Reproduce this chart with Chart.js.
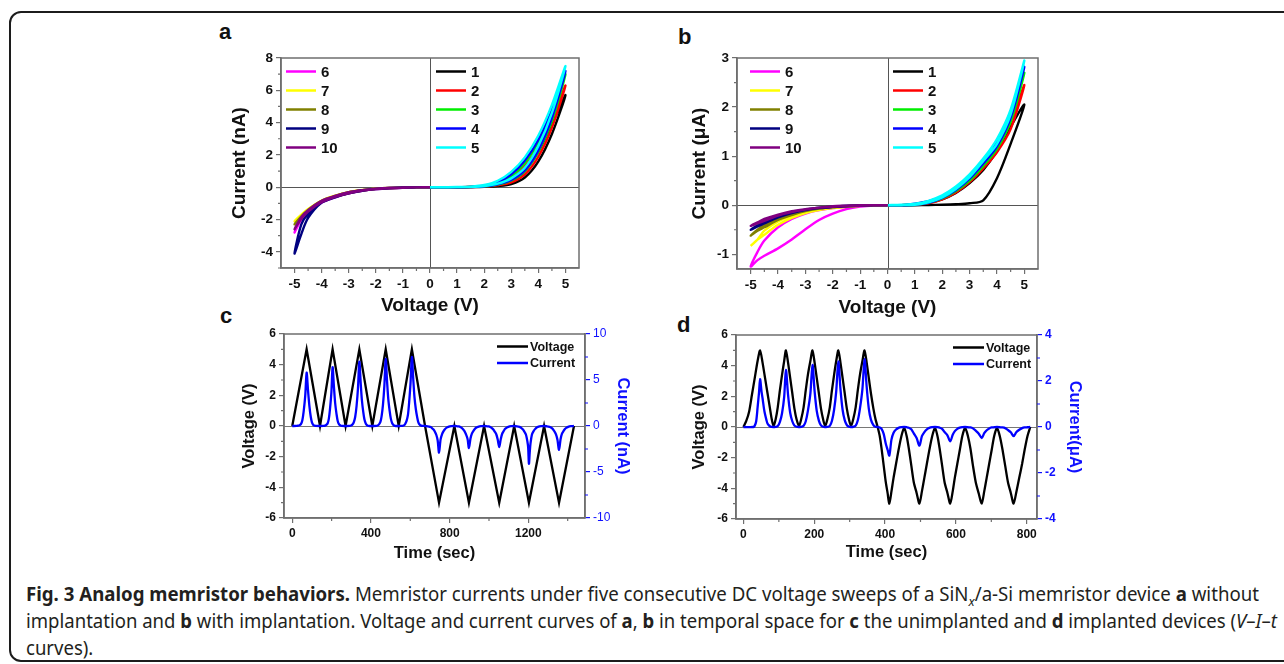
<!DOCTYPE html>
<html>
<head>
<meta charset="utf-8">
<title>Fig. 3 Analog memristor behaviors</title>
<script src="https://cdn.jsdelivr.net/npm/chart.js@4.4.1/dist/chart.umd.min.js"></script>
<style>
  html, body { margin: 0; padding: 0; background: #fff; }
  body { width: 1284px; height: 664px; position: relative; overflow: hidden; font-family: 'Liberation Sans', Arial, sans-serif; }
  .frame { position: absolute; left: 9px; top: 11px; width: 1300px; height: 647px; border: 2px solid #1c1c1c; border-radius: 12px; }
  canvas { position: absolute; }
  .tag { position: absolute; font: bold 22px 'Liberation Sans', Arial, sans-serif; line-height: 1; color: #111; }
  .cap { position: absolute; left: 26px; white-space: nowrap; transform-origin: 0 50%; font: 19px 'Noto Sans', sans-serif; line-height: 22px; color: #231f20; }
  .cap b { font-weight: 700; }
</style>
</head>
<body>
<div class="frame"></div>

<div class="tag" style="left:219px;top:21px">a</div>
<div class="tag" style="left:678px;top:26px">b</div>
<div class="tag" style="left:220px;top:305px">c</div>
<div class="tag" style="left:677px;top:314px">d</div>

<canvas id="chart-a" width="400" height="290" style="left:200px;top:40px"></canvas>
<canvas id="chart-b" width="400" height="290" style="left:660px;top:40px"></canvas>
<canvas id="chart-c" width="450" height="250" style="left:200px;top:320px"></canvas>
<canvas id="chart-d" width="450" height="250" style="left:650px;top:320px"></canvas>

<div class="cap" id="cap1" data-w="1233" style="top:583px"><b>Fig. 3 Analog memristor behaviors.</b> Memristor currents under five consecutive DC voltage sweeps of a SiN<sub style="font-size:13px"><i>x</i></sub>/a-Si memristor device <b>a</b> without</div>
<div class="cap" id="cap2" data-w="1251" style="top:610px">implantation and <b>b</b> with implantation. Voltage and current curves of <b>a</b>, <b>b</b> in temporal space for <b>c</b> the unimplanted and <b>d</b> implanted devices (<i>V</i>–<i>I</i>–<i>t</i></div>
<div class="cap" id="cap3" style="top:637px">curves).</div>

<script>
// ── Chart.js global defaults ──────────────────────────────
Chart.defaults.font.family = "'Liberation Sans', Arial, sans-serif";
Chart.defaults.color = '#111';
Chart.defaults.animation = false;

// ── I–V sweeps (panels a, b) ─────────────────────────────
const sweepLabels = ['1', '2', '3', '4', '5', '6', '7', '8', '9', '10'];
const sweepColors = ['#000000', '#ff0000', '#00ee00', '#0000ff', '#00ffff',
                     '#ff00ff', '#ffff00', '#808000', '#000080', '#800080'];

// voltage steps of one sweep (out and back)
const posGrid = [0, 0.5, 1, 1.5, 2, 2.5, 3, 3.5, 4, 4.5, 5, 4.5, 4, 3.5, 3, 2.5, 2, 1.5, 1, 0.5, 0];
const negGrid = [0, -0.5, -1, -1.5, -2, -2.5, -3, -3.5, -4, -4.5, -4.75, -5, -4.75, -4.5, -4, -3.5, -3, -2.5, -2, -1.5, -1, -0.5, 0];

// panel a, current in nA
const aSweep1  = [0, 0, 0, 0.01, 0.03, 0.08, 0.2, 0.6, 1.6, 3.3, 5.7, 3.9, 2.2, 1.0, 0.4, 0.12, 0.04, 0.01, 0, 0, 0];
const aSweep2  = [0, 0, 0, 0.01, 0.04, 0.12, 0.3, 0.8, 1.9, 3.7, 6.3, 4.2, 2.5, 1.3, 0.55, 0.18, 0.05, 0.01, 0, 0, 0];
const aSweep3  = [0, 0, 0, 0.01, 0.05, 0.16, 0.42, 1.0, 2.2, 4.1, 7.0, 4.6, 2.8, 1.5, 0.7, 0.25, 0.08, 0.02, 0, 0, 0];
const aSweep4  = [0, 0, 0, 0.01, 0.05, 0.18, 0.45, 1.05, 2.3, 4.3, 7.2, 4.8, 2.95, 1.65, 0.8, 0.3, 0.1, 0.02, 0, 0, 0];
const aSweep5  = [0, 0, 0.01, 0.02, 0.07, 0.22, 0.55, 1.2, 2.55, 4.6, 7.5, 5.1, 3.2, 1.85, 0.95, 0.4, 0.14, 0.04, 0.01, 0, 0];
const aSweep6  = [0, -0.01, -0.03, -0.06, -0.12, -0.22, -0.38, -0.62, -0.95, -1.55, -2.0, -2.8, -1.9, -1.45, -0.85, -0.55, -0.32, -0.18, -0.1, -0.05, -0.02, -0.01, 0];
const aSweep7  = [0, -0.01, -0.03, -0.05, -0.1, -0.2, -0.35, -0.58, -0.9, -1.4, -1.75, -2.1, -1.7, -1.35, -0.82, -0.52, -0.3, -0.17, -0.09, -0.04, -0.02, -0.01, 0];
const aSweep8  = [0, -0.01, -0.03, -0.05, -0.1, -0.2, -0.36, -0.6, -0.9, -1.45, -1.85, -2.3, -1.8, -1.4, -0.84, -0.54, -0.31, -0.18, -0.09, -0.04, -0.02, -0.01, 0];
const aSweep9  = [0, -0.01, -0.03, -0.06, -0.12, -0.22, -0.38, -0.62, -0.95, -1.65, -2.3, -4.1, -2.9, -1.9, -0.95, -0.58, -0.34, -0.19, -0.1, -0.05, -0.02, -0.01, 0];
const aSweep10 = [0, -0.01, -0.03, -0.06, -0.11, -0.21, -0.37, -0.6, -0.93, -1.5, -1.95, -2.6, -1.85, -1.42, -0.84, -0.54, -0.31, -0.18, -0.09, -0.04, -0.02, -0.01, 0];

// panel b, current in µA
const bSweep1  = [0, 0, 0, 0.005, 0.01, 0.02, 0.04, 0.1, 0.55, 1.25, 2.05, 1.6, 1.1, 0.72, 0.45, 0.25, 0.12, 0.05, 0.01, 0, 0];
const bSweep2  = [0, 0, 0.01, 0.04, 0.12, 0.26, 0.47, 0.75, 1.08, 1.55, 2.45, 1.7, 1.15, 0.8, 0.52, 0.3, 0.15, 0.06, 0.02, 0, 0];
const bSweep3  = [0, 0, 0.01, 0.05, 0.14, 0.29, 0.5, 0.8, 1.15, 1.7, 2.7, 1.85, 1.25, 0.85, 0.55, 0.32, 0.16, 0.07, 0.02, 0, 0];
const bSweep4  = [0, 0, 0.01, 0.05, 0.15, 0.31, 0.54, 0.85, 1.2, 1.78, 2.82, 1.9, 1.3, 0.9, 0.6, 0.35, 0.18, 0.08, 0.03, 0, 0];
const bSweep5  = [0, 0, 0.01, 0.06, 0.16, 0.33, 0.57, 0.9, 1.25, 1.85, 2.95, 1.95, 1.35, 0.95, 0.63, 0.38, 0.2, 0.09, 0.03, 0.01, 0];
const bSweep6  = [0, -0.005, -0.03, -0.08, -0.17, -0.3, -0.49, -0.7, -0.88, -1.03, -1.12, -1.25, -0.95, -0.72, -0.45, -0.28, -0.17, -0.1, -0.06, -0.03, -0.01, 0, 0];
const bSweep7  = [0, 0, -0.01, -0.03, -0.06, -0.1, -0.16, -0.26, -0.4, -0.6, -0.7, -0.83, -0.7, -0.52, -0.33, -0.21, -0.13, -0.08, -0.05, -0.02, -0.01, 0, 0];
const bSweep8  = [0, 0, -0.01, -0.02, -0.04, -0.07, -0.12, -0.2, -0.3, -0.45, -0.52, -0.62, -0.5, -0.4, -0.27, -0.17, -0.1, -0.06, -0.03, -0.02, -0.01, 0, 0];
const bSweep9  = [0, 0, -0.01, -0.02, -0.04, -0.06, -0.1, -0.16, -0.25, -0.37, -0.43, -0.5, -0.41, -0.33, -0.22, -0.14, -0.09, -0.05, -0.03, -0.01, 0, 0, 0];
const bSweep10 = [0, 0, -0.01, -0.02, -0.03, -0.05, -0.09, -0.14, -0.21, -0.32, -0.37, -0.42, -0.35, -0.28, -0.19, -0.12, -0.08, -0.05, -0.02, -0.01, 0, 0, 0];

// ── Tick values ───────────────────────────────────────────
const ivXTicks = [-5, -4, -3, -2, -1, 0, 1, 2, 3, 4, 5];
const ivXMinor = [-4.5, -3.5, -2.5, -1.5, -0.5, 0.5, 1.5, 2.5, 3.5, 4.5];
const aYTicks  = [-4, -2, 0, 2, 4, 6, 8];
const aYMinor  = [-5, -3, -1, 1, 3, 5, 7];
const bYTicks  = [-1, 0, 1, 2, 3];
const bYMinor  = [-0.5, 0.5, 1.5, 2.5];
const vtVTicks = [-6, -4, -2, 0, 2, 4, 6];
const vtVMinor = [-5, -3, -1, 1, 3, 5];
const cXTicks  = [0, 400, 800, 1200];
const cXMinor  = [200, 600, 1000, 1400];
const cITicks  = [-10, -5, 0, 5, 10];
const cIMinor  = [-7.5, -2.5, 2.5, 7.5];
const dXTicks  = [0, 200, 400, 600, 800];
const dXMinor  = [100, 300, 500, 700];
const dITicks  = [-4, -2, 0, 2, 4];
const dIMinor  = [-3, -1, 1, 3];

// ── Time traces (panels c, d): [time s, value] ───────────
const cVoltage = [[0, 0], [73, 5], [141, 0], [205, 5], [271, 0], [341, 5], [407, 0], [475, 5], [541, 0], [608, 5], [675, 0],
  [746, -5], [824, 0], [898, -5], [975, 0], [1052, -5], [1128, 0], [1203, -5], [1280, 0], [1356, -5], [1432, 0]];

const cCurrent = [[0, 0], [22, 0.01], [29, 0.03], [37, 0.08], [44, 0.2], [51, 0.6], [58, 1.6], [66, 3.3], [73, 5.8], [80, 3.9], [87, 2.2], [94, 1.0], [100, 0.4], [107, 0.12], [114, 0.04], [121, 0.01], [141, 0],
  [160, 0.01], [167, 0.04], [173, 0.12], [180, 0.3], [186, 0.8], [192, 1.9], [199, 3.7], [205, 6.4], [212, 4.2], [218, 2.5], [225, 1.3], [231, 0.55], [238, 0.18], [245, 0.05], [251, 0.01], [271, 0],
  [292, 0.01], [299, 0.05], [306, 0.16], [313, 0.42], [320, 1.0], [327, 2.2], [334, 4.1], [341, 7.0], [348, 4.6], [354, 2.8], [361, 1.5], [367, 0.7], [374, 0.25], [381, 0.08], [387, 0.02], [407, 0],
  [427, 0.01], [434, 0.05], [441, 0.18], [448, 0.45], [454, 1.05], [461, 2.3], [468, 4.3], [475, 7.3], [482, 4.8], [488, 2.95], [495, 1.65], [501, 0.8], [508, 0.3], [515, 0.1], [521, 0.02], [541, 0],
  [554, 0.01], [561, 0.02], [568, 0.07], [574, 0.22], [581, 0.55], [588, 1.2], [594, 2.55], [601, 4.6], [608, 7.5], [615, 5.1], [621, 3.2], [628, 1.85], [635, 0.95], [641, 0.4], [648, 0.14], [655, 0.04], [661, 0.01], [675, 0],
  [682, -0.01], [689, -0.03], [696, -0.06], [703, -0.12], [710, -0.22], [718, -0.38], [725, -0.62], [732, -0.95], [739, -1.55], [746, -2.9], [754, -1.45], [762, -0.85], [769, -0.55], [777, -0.32], [785, -0.18], [793, -0.1], [801, -0.05], [808, -0.02], [824, 0],
  [839, -0.03], [846, -0.05], [854, -0.1], [861, -0.2], [868, -0.35], [876, -0.58], [883, -0.9], [891, -1.4], [898, -2.4], [906, -1.35], [913, -0.82], [921, -0.52], [929, -0.3], [936, -0.17], [944, -0.09], [952, -0.04], [960, -0.02], [975, 0],
  [990, -0.03], [998, -0.05], [1006, -0.1], [1013, -0.2], [1021, -0.36], [1029, -0.6], [1037, -0.9], [1044, -1.45], [1052, -2.3], [1060, -1.4], [1067, -0.84], [1075, -0.54], [1082, -0.31], [1090, -0.18], [1098, -0.09], [1105, -0.04], [1113, -0.02], [1128, 0],
  [1143, -0.03], [1150, -0.06], [1158, -0.12], [1165, -0.22], [1173, -0.38], [1180, -0.62], [1188, -0.95], [1195, -1.65], [1199, -2.3], [1203, -4.1], [1207, -2.9], [1211, -1.9], [1218, -0.95], [1226, -0.58], [1234, -0.34], [1241, -0.19], [1249, -0.1], [1257, -0.05], [1265, -0.02], [1280, 0],
  [1295, -0.03], [1303, -0.06], [1310, -0.11], [1318, -0.21], [1326, -0.37], [1333, -0.6], [1341, -0.93], [1348, -1.5], [1356, -2.6], [1364, -1.42], [1371, -0.84], [1379, -0.54], [1387, -0.31], [1394, -0.18], [1402, -0.09], [1409, -0.04], [1417, -0.02], [1432, 0]];

const dVoltage = [[0, 0], [8, 0.4], [16, 1.0], [24, 2.1], [32, 3.2], [40, 4.3], [47, 5], [54, 4.2], [61, 3.2], [68, 2.2], [75, 1.2], [80, 0.5], [85, 0.05],
  [91, 0.5], [97, 1.3], [103, 2.4], [109, 3.4], [115, 4.3], [120, 5], [126, 4.2], [132, 3.2], [138, 2.2], [144, 1.2], [150, 0.5], [157, 0.05],
  [163, 0.5], [170, 1.3], [176, 2.4], [182, 3.4], [189, 4.3], [195, 5], [201, 4.2], [207, 3.2], [213, 2.2], [219, 1.2], [225, 0.5], [231, 0.05],
  [237, 0.5], [244, 1.3], [250, 2.4], [256, 3.4], [262, 4.3], [268, 5], [274, 4.2], [280, 3.2], [286, 2.2], [292, 1.2], [298, 0.5], [304, 0.05],
  [310, 0.5], [317, 1.3], [323, 2.4], [329, 3.4], [336, 4.3], [342, 5], [348, 4.2], [354, 3.2], [360, 2.2], [367, 1.2], [373, 0.5], [379, 0],
  [385, -0.6], [390, -1.4], [396, -2.5], [402, -3.6], [407, -4.3], [412, -5], [418, -4.2], [424, -3.3], [431, -2.4], [438, -1.5], [446, -0.6], [454, -0.05],
  [461, -0.6], [467, -1.4], [474, -2.5], [481, -3.6], [489, -4.3], [497, -5], [504, -4.2], [511, -3.3], [518, -2.4], [525, -1.5], [533, -0.6], [541, -0.05],
  [548, -0.6], [554, -1.4], [561, -2.5], [568, -3.6], [576, -4.3], [584, -5], [591, -4.2], [597, -3.3], [604, -2.4], [611, -1.5], [618, -0.6], [626, -0.05],
  [634, -0.6], [641, -1.4], [648, -2.5], [656, -3.6], [664, -4.3], [673, -5], [680, -4.2], [687, -3.3], [694, -2.4], [701, -1.5], [708, -0.6], [716, -0.05],
  [724, -0.6], [731, -1.4], [739, -2.5], [747, -3.6], [755, -4.3], [763, -5], [771, -4.2], [779, -3.3], [787, -2.4], [794, -1.5], [802, -0.6], [810, 0]];

const dCurrent = [[0, 0], [28, 0], [32, 0.06], [36, 0.25], [40, 0.85], [44, 1.5], [47, 2.08], [51, 1.55], [54, 1.25], [58, 0.8], [61, 0.55], [65, 0.3], [68, 0.15], [72, 0.07], [76, 0.02], [85, 0],
  [91, 0.005], [97, 0.04], [103, 0.22], [109, 0.6], [115, 1.3], [120, 2.48], [126, 1.4], [132, 0.62], [138, 0.25], [144, 0.06], [150, 0.01], [157, 0],
  [163, 0.005], [170, 0.05], [176, 0.25], [182, 0.7], [189, 1.45], [195, 2.7], [201, 1.55], [207, 0.7], [213, 0.28], [219, 0.07], [225, 0.01], [231, 0],
  [237, 0.005], [244, 0.05], [250, 0.27], [256, 0.75], [262, 1.55], [268, 2.85], [274, 1.65], [280, 0.75], [286, 0.3], [292, 0.08], [298, 0.01], [304, 0],
  [310, 0.005], [317, 0.06], [323, 0.29], [329, 0.8], [336, 1.65], [342, 2.95], [348, 1.75], [354, 0.8], [360, 0.32], [367, 0.08], [373, 0.01], [379, 0],
  [385, -0.02], [390, -0.08], [396, -0.3], [402, -0.73], [407, -0.99], [412, -1.24], [418, -0.55], [424, -0.25], [431, -0.11], [438, -0.04], [446, -0.01], [454, 0],
  [461, -0.01], [467, -0.03], [474, -0.1], [481, -0.28], [489, -0.48], [497, -0.81], [504, -0.4], [511, -0.22], [518, -0.1], [525, -0.04], [533, -0.01], [541, 0],
  [548, -0.01], [554, -0.03], [561, -0.08], [568, -0.22], [576, -0.36], [584, -0.62], [591, -0.34], [597, -0.18], [604, -0.08], [611, -0.03], [618, -0.01], [626, 0],
  [634, -0.01], [641, -0.02], [648, -0.06], [656, -0.16], [664, -0.28], [673, -0.48], [680, -0.27], [687, -0.14], [694, -0.06], [701, -0.02], [708, -0.01], [716, 0],
  [724, -0.01], [731, -0.02], [739, -0.05], [747, -0.13], [755, -0.23], [763, -0.4], [771, -0.22], [779, -0.12], [787, -0.05], [794, -0.02], [802, -0.01], [810, 0]];

// ── Plugins ───────────────────────────────────────────────
const AXIS_GREY = '#6f6f6f';
const BLUE = '#1010ff';

// zero lines under the data, box around the plot area on top
const framePlugin = {
    id: 'frame',
    beforeDatasetsDraw(chart, args, opts) {
        const { ctx, chartArea: a, scales } = chart;
        ctx.save();
        ctx.strokeStyle = opts.zeroColor || '#555';
        ctx.lineWidth = 1;
        ctx.beginPath();
        if (opts.zeroX) {
            const px = Math.round(scales.x.getPixelForValue(0)) + 0.5;
            ctx.moveTo(px, a.top); ctx.lineTo(px, a.bottom);
        }
        if (opts.zeroY) {
            const py = Math.round(scales.y.getPixelForValue(0)) + 0.5;
            ctx.moveTo(a.left, py); ctx.lineTo(a.right, py);
        }
        ctx.stroke();
        ctx.restore();
    },
    afterDraw(chart) {
        const { ctx, chartArea: a } = chart;
        ctx.save();
        ctx.strokeStyle = AXIS_GREY;
        ctx.lineWidth = 1.5;
        ctx.strokeRect(a.left, a.top, a.right - a.left, a.bottom - a.top);
        ctx.restore();
    }
};

// short unlabelled ticks between the labelled ones
const minorTicksPlugin = {
    id: 'minorTicks',
    afterDraw(chart, args, opts) {
        const { ctx, chartArea: a } = chart;
        ctx.save();
        ctx.lineWidth = 1.2;
        (opts.sets || []).forEach(set => {
            const s = chart.scales[set.scale];
            ctx.strokeStyle = set.color || AXIS_GREY;
            ctx.beginPath();
            set.values.forEach(v => {
                const p = s.getPixelForValue(v);
                if (s.isHorizontal()) {
                    ctx.moveTo(p, a.bottom); ctx.lineTo(p, a.bottom + 3);
                } else if (s.position === 'right') {
                    ctx.moveTo(a.right, p); ctx.lineTo(a.right + 3, p);
                } else {
                    ctx.moveTo(a.left, p); ctx.lineTo(a.left - 3, p);
                }
            });
            ctx.stroke();
        });
        ctx.restore();
    }
};

// legend drawn inside the plot area, one block per column
const insideLegendPlugin = {
    id: 'insideLegend',
    afterDatasetsDraw(chart, args, opts) {
        if (!opts.groups) return;
        const { ctx, chartArea: a } = chart;
        ctx.save();
        ctx.font = opts.font;
        ctx.textBaseline = 'middle';
        ctx.textAlign = 'left';
        opts.groups.forEach(g => {
            const x0 = g.fromRight ? a.right - g.x : a.left + g.x;
            g.items.forEach((idx, row) => {
                const ds = chart.data.datasets[idx];
                const y = a.top + g.y + row * g.rowH;
                ctx.strokeStyle = ds.borderColor;
                ctx.lineWidth = opts.lineWidth;
                ctx.beginPath();
                ctx.moveTo(x0, y);
                ctx.lineTo(x0 + g.len, y);
                ctx.stroke();
                ctx.fillStyle = '#111';
                ctx.fillText(ds.label, x0 + g.len + g.gap, y + 1);
            });
        });
        ctx.restore();
    }
};

// ── Shared scale builder ──────────────────────────────────
function linearAxis(o) {
    return {
        type: 'linear',
        position: o.position,
        min: o.min,
        max: o.max,
        afterBuildTicks: s => { s.ticks = o.ticks.map(v => ({ value: v })); },
        afterFit: s => { if (s.isHorizontal()) s.height = o.size; else s.width = o.size; },
        ticks: {
            autoSkip: false,
            maxRotation: 0,
            padding: 3,
            color: o.color || '#111',
            font: { size: o.tickSize, weight: o.tickWeight || 'bold' },
            callback: v => String(v)
        },
        grid: { drawOnChartArea: false, tickLength: 5, color: o.tickColor || AXIS_GREY, lineWidth: 1.2 },
        border: { color: AXIS_GREY, width: 1.5 },
        title: {
            display: true,
            text: o.title,
            color: o.color || '#111',
            font: { size: o.titleSize, weight: 'bold' },
            padding: o.titlePad
        }
    };
}

// ── Panels a and b: I–V loops ─────────────────────────────
function buildIV(canvasId, sweeps, yMin, yMax, yTicks, yMinor, yTitle, lay) {
    const datasets = sweeps.map((vals, i) => ({
        label: sweepLabels[i],
        data: (i < 5 ? posGrid : negGrid).map((v, k) => ({ x: v, y: vals[k] })),
        showLine: true,
        borderColor: sweepColors[i],
        backgroundColor: sweepColors[i],
        borderWidth: 2.4,
        pointRadius: 0,
        tension: 0.3,
        order: 10 - i
    }));

    return new Chart(document.getElementById(canvasId), {
        type: 'scatter',
        data: { datasets },
        options: {
            responsive: false,
            animation: false,
            events: [],
            layout: { padding: lay.pad },
            plugins: {
                legend: { display: false },
                tooltip: { enabled: false },
                frame: { zeroX: true, zeroY: true, zeroColor: '#555' },
                minorTicks: { sets: [{ scale: 'x', values: ivXMinor }, { scale: 'y', values: yMinor }] },
                insideLegend: {
                    font: "bold 15px 'Liberation Sans', Arial, sans-serif",
                    lineWidth: 2.5,
                    groups: [
                        { x: lay.leg1, y: 13.5, rowH: 19, len: 30, gap: 5, items: [5, 6, 7, 8, 9] },
                        { x: lay.leg2, y: 13.5, rowH: 19, len: 30, gap: 5, items: [0, 1, 2, 3, 4] }
                    ]
                }
            },
            scales: {
                x: linearAxis({ position: 'bottom', min: -5.5, max: 5.5, ticks: ivXTicks, size: lay.xH,
                    tickSize: 13.5, title: 'Voltage (V)', titleSize: 19, titlePad: { top: 0, bottom: lay.xTitlePad } }),
                y: linearAxis({ position: 'left', min: yMin, max: yMax, ticks: yTicks, size: lay.yW,
                    tickSize: 13.5, title: yTitle, titleSize: 19, titlePad: { top: lay.yTitlePad, bottom: 0 } })
            }
        },
        plugins: [framePlugin, minorTicksPlugin, insideLegendPlugin]
    });
}

buildIV('chart-a',
    [aSweep1, aSweep2, aSweep3, aSweep4, aSweep5, aSweep6, aSweep7, aSweep8, aSweep9, aSweep10],
    -5, 8, aYTicks, aYMinor, 'Current (nA)',
    { pad: { top: 18, right: 21, left: 0, bottom: 0 }, yW: 81, xH: 62, xTitlePad: 13, yTitlePad: 28, leg1: 5, leg2: 155 });

buildIV('chart-b',
    [bSweep1, bSweep2, bSweep3, bSweep4, bSweep5, bSweep6, bSweep7, bSweep8, bSweep9, bSweep10],
    -1.3, 3, bYTicks, bYMinor, 'Current (\u03bcA)',
    { pad: { top: 18, right: 22, left: 0, bottom: 0 }, yW: 77, xH: 61, xTitlePad: 11, yTitlePad: 28, leg1: 13, leg2: 156 });

// ── Panels c and d: voltage and current against time ─────
function buildVT(canvasId, volt, cur, o) {
    const toPts = arr => arr.map(p => ({ x: p[0], y: p[1] }));
    return new Chart(document.getElementById(canvasId), {
        type: 'scatter',
        data: {
            datasets: [
                { label: 'Voltage', data: toPts(volt), yAxisID: 'y', showLine: true, borderColor: '#000',
                  backgroundColor: '#000', borderWidth: 2.3, pointRadius: 0, tension: o.voltTension, order: 2 },
                { label: 'Current', data: toPts(cur), yAxisID: 'y2', showLine: true, borderColor: '#0000ff',
                  backgroundColor: '#0000ff', borderWidth: 2.3, pointRadius: 0, tension: 0.3, order: 1 }
            ]
        },
        options: {
            responsive: false,
            animation: false,
            events: [],
            layout: { padding: o.pad },
            plugins: {
                legend: { display: false },
                tooltip: { enabled: false },
                frame: { zeroY: true, zeroColor: '#777' },
                minorTicks: { sets: [
                    { scale: 'x', values: o.xMinor },
                    { scale: 'y', values: vtVMinor },
                    { scale: 'y2', values: o.iMinor, color: BLUE }
                ] },
                insideLegend: {
                    font: "bold 12.5px 'Liberation Sans', Arial, sans-serif",
                    lineWidth: 2.5,
                    groups: [{ fromRight: true, x: o.legX, y: 12.5, rowH: 16.5, len: 31, gap: 2, items: [0, 1] }]
                }
            },
            scales: {
                x: linearAxis({ position: 'bottom', min: o.xMin, max: o.xMax, ticks: o.xTicks, size: o.xH,
                    tickSize: 12, title: 'Time (sec)', titleSize: 16.5, titlePad: { top: 0, bottom: o.xTitlePad } }),
                y: linearAxis({ position: 'left', min: -6, max: 6, ticks: vtVTicks, size: o.yW,
                    tickSize: 12, title: 'Voltage (V)', titleSize: 16.5, titlePad: { top: 40, bottom: 0 } }),
                y2: linearAxis({ position: 'right', min: o.iMin, max: o.iMax, ticks: o.iTicks, size: o.y2W,
                    tickSize: 12, tickWeight: o.iTickWeight, color: BLUE, tickColor: BLUE,
                    title: o.iTitle, titleSize: 16.5, titlePad: { top: o.y2TitlePad, bottom: 0 } })
            }
        },
        plugins: [framePlugin, minorTicksPlugin, insideLegendPlugin]
    });
}

buildVT('chart-c', cVoltage, cCurrent, {
    pad: { top: 14, right: 0, left: 0, bottom: 0 }, yW: 84, y2W: 65, xH: 52,
    xMin: -42, xMax: 1488, xTicks: cXTicks, xMinor: cXMinor,
    iMin: -10, iMax: 10, iTicks: cITicks, iMinor: cIMinor, iTickWeight: 'normal',
    iTitle: 'Current (nA)', y2TitlePad: 18, xTitlePad: 7, voltTension: 0, legX: 88
});

buildVT('chart-d', dVoltage, dCurrent, {
    pad: { top: 15, right: 0, left: 0, bottom: 0 }, yW: 86, y2W: 63, xH: 51,
    xMin: -21, xMax: 829, xTicks: dXTicks, xMinor: dXMinor,
    iMin: -4, iMax: 4, iTicks: dITicks, iMinor: dIMinor, iTickWeight: 'bold',
    iTitle: 'Current(\u03bcA)', y2TitlePad: 16, xTitlePad: 8, voltTension: 0.25, legX: 84
});

// ── Caption: fit each line to the width of the original ──
function fitCaption() {
    const l1 = document.getElementById('cap1');
    const l2 = document.getElementById('cap2');
    const l3 = document.getElementById('cap3');
    [l1, l2].forEach(el => {
        el.style.transform = 'none';
        const w = el.getBoundingClientRect().width;
        el.style.transform = 'scaleX(' + (+el.dataset.w / w) + ')';
    });
    l3.style.transform = l2.style.transform;
}
fitCaption();
if (document.fonts && document.fonts.ready) document.fonts.ready.then(fitCaption);
</script>
</body>
</html>
